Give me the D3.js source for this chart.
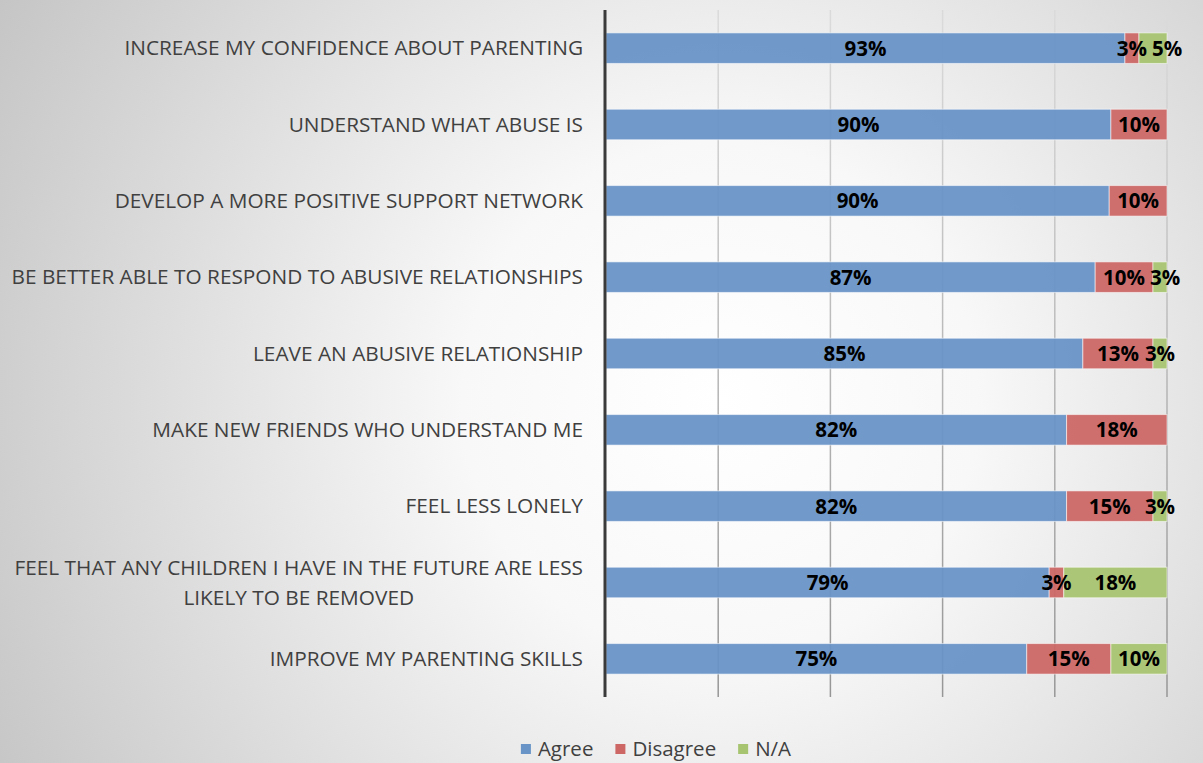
<!DOCTYPE html>
<html>
<head>
<meta charset="utf-8">
<script src="https://cdn.jsdelivr.net/npm/d3@7"></script>
<style>
  html, body { margin: 0; padding: 0; }
  body { width: 1203px; height: 763px; overflow: hidden; }
</style>
</head>
<body>
<div id="chart"></div>
<script>
// categories, top to bottom
const categories = [
    "INCREASE MY CONFIDENCE ABOUT PARENTING",
    "UNDERSTAND WHAT ABUSE IS",
    "DEVELOP A MORE POSITIVE SUPPORT NETWORK",
    "BE BETTER ABLE TO RESPOND TO ABUSIVE RELATIONSHIPS",
    "LEAVE AN ABUSIVE RELATIONSHIP",
    "MAKE NEW FRIENDS WHO UNDERSTAND ME",
    "FEEL LESS LONELY",
    "FEEL THAT ANY CHILDREN I HAVE IN THE FUTURE ARE LESS LIKELY TO BE REMOVED",
    "IMPROVE MY PARENTING SKILLS"
];
const agree    = [92.5, 90, 89.7, 87.2, 85, 82.1, 82.1, 79, 75];
const disagree = [2.5, 10, 10.3, 10.3, 12.5, 17.9, 15.4, 2.6, 15];
const na       = [5, 0, 0, 2.5, 2.5, 0, 2.5, 18.4, 10];

const seriesNames = ["Agree", "Disagree", "N/A"];
const seriesColors = ["#6894c8", "#cc6766", "#a7c470"];
const xTicks = [0, 20, 40, 60, 80, 100];

const W = 1203, H = 763;
const margin = {top: 10, right: 36, bottom: 66, left: 606};
const width = W - margin.left - margin.right,
    height = H - margin.top - margin.bottom;

const svg = d3.select("#chart")
    .append("svg")
    .attr("width", W)
    .attr("height", H);

// background radial gradient
const defs = svg.append("defs");
const bg = defs.append("radialGradient")
    .attr("id", "bg")
    .attr("gradientUnits", "userSpaceOnUse")
    .attr("cx", 720).attr("cy", 400).attr("r", 860);
bg.append("stop").attr("offset", 0).attr("stop-color", "#ffffff");
bg.append("stop").attr("offset", 0.3).attr("stop-color", "#f8f8f8");
bg.append("stop").attr("offset", 1).attr("stop-color", "#c2c2c2");

const gridGrad = defs.append("linearGradient")
    .attr("id", "gridGrad")
    .attr("gradientUnits", "userSpaceOnUse")
    .attr("x1", 0).attr("y1", margin.top).attr("x2", 0).attr("y2", margin.top + height);
gridGrad.append("stop").attr("offset", 0).attr("stop-color", "#dadada");
gridGrad.append("stop").attr("offset", 1).attr("stop-color", "#959595");

svg.append("rect")
    .attr("width", W).attr("height", H)
    .attr("fill", "url(#bg)");

const g = svg.append("g")
    .attr("transform", `translate(${margin.left}, ${margin.top})`);

// build stack table
const table = categories.map((c, i) => ({
    category: c, "Agree": agree[i], "Disagree": disagree[i], "N/A": na[i]
}));
const stacked = d3.stack()
    .keys(seriesNames)
    .offset(d3.stackOffsetExpand)(table);

const x = d3.scaleLinear().domain([0, 1]).range([0, width]);
const y = d3.scaleBand()
    .domain(categories)
    .range([0, height])
    .paddingInner(0.6)
    .paddingOuter(0.3);
const color = d3.scaleOrdinal().domain(seriesNames).range(seriesColors);

// gridlines (under the bars)
g.append("g")
    .selectAll("line")
    .data(xTicks.slice(1))
    .join("line")
    .attr("x1", d => x(d / 100)).attr("x2", d => x(d / 100))
    .attr("y1", 0).attr("y2", height)
    .attr("stroke", "url(#gridGrad)")
    .attr("stroke-width", 1.5);

// bars
g.append("g")
    .selectAll("g")
    .data(stacked)
    .join("g")
    .attr("fill", d => color(d.key))
    .selectAll("rect")
    .data(d => d)
    .join("rect")
    .attr("x", d => x(d[0]))
    .attr("y", d => y(d.data.category))
    .attr("width", d => x(d[1]) - x(d[0]))
    .attr("height", y.bandwidth())
    .attr("fill-opacity", 0.94)
    .attr("stroke", "rgba(255,255,255,0.55)")
    .attr("stroke-width", 1);

// y axis line
g.append("line")
    .attr("x1", -1).attr("x2", -1)
    .attr("y1", 0).attr("y2", height)
    .attr("stroke", "#3a3a3a")
    .attr("stroke-width", 3);

// category labels, wrapped, lines centred within a right-aligned block
const labelFont = "'Open Sans', sans-serif";
const labelG = g.append("g");
categories.forEach(c => {
    const t = labelG.append("text")
        .style("font-family", labelFont)
        .style("font-size", "20.8px")
        .attr("fill", "#404040");
    // wrap words
    const words = c.split(" ");
    const lines = [];
    let line = [];
    const probe = t.append("tspan");
    words.forEach(w => {
        line.push(w);
        probe.text(line.join(" "));
        if (probe.node().getComputedTextLength() > 590 && line.length > 1) {
            line.pop();
            lines.push(line.join(" "));
            line = [w];
        }
    });
    lines.push(line.join(" "));
    probe.remove();
    const widths = lines.map(l => {
        const s = t.append("tspan").text(l);
        const wv = s.node().getComputedTextLength();
        s.remove();
        return wv;
    });
    const blockW = d3.max(widths);
    const right = -23;
    const cy = y(c) + y.bandwidth() / 2;
    const lh = 30;
    lines.forEach((l, k) => {
        t.append("tspan")
            .attr("x", right - blockW / 2)
            .attr("y", cy + (k - (lines.length - 1) / 2) * lh)
            .attr("dy", "0.35em")
            .attr("text-anchor", "middle")
            .text(l);
    });
});

// value labels with simple overlap push to the right
const valG = g.append("g");
categories.forEach((c, i) => {
    let lastRight = -Infinity;
    stacked.forEach(s => {
        const d = s[i];
        const raw = d.data[s.key];
        if (!raw) return;
        const txt = Math.round(raw) + "%";
        const t = valG.append("text")
            .style("font-family", labelFont)
            .style("font-size", "20.5px")
            .style("font-weight", "bold")
            .attr("fill", "#000")
            .attr("text-anchor", "middle")
            .attr("y", y(c) + y.bandwidth() / 2)
            .attr("dy", "0.36em")
            .text(txt);
        const w = t.node().getComputedTextLength();
        let cx = (x(d[0]) + x(d[1])) / 2;
        if (cx - w / 2 < lastRight + 5) cx = lastRight + 5 + w / 2;
        t.attr("x", cx);
        lastRight = cx + w / 2;
    });
});

// legend
const legend = svg.append("g");
let lx = 0;
const items = legend.selectAll("g")
    .data(seriesNames)
    .join("g");
items.append("rect")
    .attr("width", 10).attr("height", 10)
    .attr("y", -5)
    .attr("fill", d => color(d));
items.append("text")
    .attr("x", 17)
    .attr("dy", "0.35em")
    .style("font-family", labelFont)
    .style("font-size", "20.5px")
    .attr("fill", "#404040")
    .text(d => d);
items.each(function() {
    const bw = this.getBBox().width;
    d3.select(this).attr("transform", `translate(${lx}, 0)`);
    lx += bw + 22;
});
const totalW = lx - 22;
legend.attr("transform", `translate(${656 - totalW / 2}, ${H - 14})`);
</script>
</body>
</html>
